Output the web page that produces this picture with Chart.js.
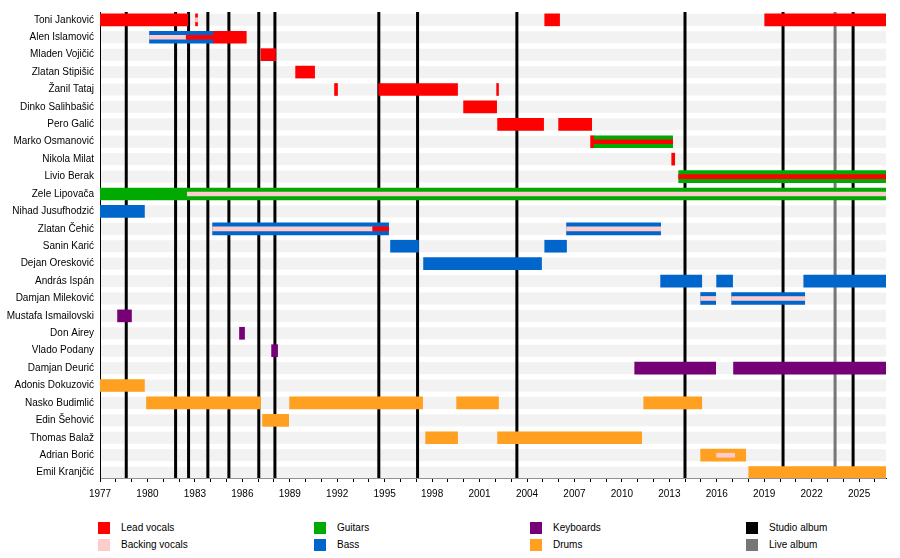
<!DOCTYPE html>
<html>
<head>
<meta charset="utf-8">
<script src="https://cdn.jsdelivr.net/npm/chart.js@4"></script>
<style>
  html, body { margin: 0; padding: 0; background: #fff; }
  body { width: 900px; height: 558px; position: relative; overflow: hidden; font-family: "Liberation Sans", Arial, sans-serif; }
  #wrap { position: absolute; left: 0; top: 0; width: 900px; height: 505px; }
  #legend {
    position: absolute; left: 98px; top: 519px;
    display: grid; grid-auto-flow: column;
    grid-template-rows: 17px 17px; grid-template-columns: repeat(4, 216px);
    font-size: 10px; color: #000;
  }
  .item { display: flex; align-items: center; }
  .box { width: 12px; height: 12px; margin-right: 11px; }
</style>
</head>
<body>
<div id="wrap"><canvas id="timeline"></canvas></div>
<div id="legend"></div>
<script>
// band members, top to bottom
const members = [
  'Toni Janković', 'Alen Islamović', 'Mladen Vojičić', 'Zlatan Stipišić', 'Žanil Tataj',
  'Dinko Salihbašić', 'Pero Galić', 'Marko Osmanović', 'Nikola Milat', 'Livio Berak',
  'Zele Lipovača', 'Nihad Jusufhodzić', 'Zlatan Čehić', 'Sanin Karić', 'Dejan Oresković',
  'András Ispán', 'Damjan Mileković', 'Mustafa Ismailovski', 'Don Airey', 'Vlado Podany',
  'Damjan Deurić', 'Adonis Dokuzović', 'Nasko Budimlić', 'Edin Šehović', 'Thomas Balaž',
  'Adrian Borić', 'Emil Kranjčić'
];

const startYear = 1977;
const endYear = 2026.7;

// [member, from, to]
const leadVocals = [
  ['Toni Janković', 1977, 1982.55], ['Toni Janković', 1983.04, 1983.17],
  ['Toni Janković', 2005.12, 2006.06], ['Toni Janković', 2019.03, 2026.7],
  ['Alen Islamović', 1984.18, 1986.25],
  ['Mladen Vojičić', 1987.17, 1988.1],
  ['Zlatan Stipišić', 1989.37, 1990.57],
  ['Žanil Tataj', 1991.83, 1992.02], ['Žanil Tataj', 1994.62, 1999.61], ['Žanil Tataj', 2002.08, 2002.2],
  ['Dinko Salihbašić', 1999.99, 2002.08],
  ['Pero Galić', 2002.14, 2005.05], ['Pero Galić', 2006.0, 2008.09],
  ['Marko Osmanović', 2008.02, 2008.21],
  ['Nikola Milat', 2013.15, 2013.34]
];
const guitars = [
  ['Marko Osmanović', 2008.21, 2013.21],
  ['Livio Berak', 2013.59, 2026.7],
  ['Zele Lipovača', 1977, 2026.7]
];
const bass = [
  ['Alen Islamović', 1980.13, 1984.18],
  ['Nihad Jusufhodzić', 1977, 1979.81],
  ['Zlatan Čehić', 1984.12, 1995.25], ['Zlatan Čehić', 2006.5, 2012.45],
  ['Sanin Karić', 1995.37, 1997.14], ['Sanin Karić', 2005.12, 2006.5],
  ['Dejan Oresković', 1997.46, 2004.92],
  ['András Ispán', 2012.45, 2015.05], ['András Ispán', 2015.99, 2017.0], ['András Ispán', 2021.5, 2026.7],
  ['Damjan Mileković', 2014.98, 2015.93], ['Damjan Mileković', 2016.94, 2021.56]
];
const keyboards = [
  ['Mustafa Ismailovski', 1978.11, 1978.99],
  ['Don Airey', 1985.82, 1986.14],
  ['Vlado Podany', 1987.85, 1988.23],
  ['Damjan Deurić', 2010.81, 2015.93], ['Damjan Deurić', 2017.06, 2026.7]
];
const drums = [
  ['Adonis Dokuzović', 1977, 1979.81],
  ['Nasko Budimlić', 1979.94, 1987.15], ['Nasko Budimlić', 1988.99, 1997.4],
  ['Nasko Budimlić', 1999.55, 2002.2], ['Nasko Budimlić', 2011.38, 2015.05],
  ['Edin Šehović', 1987.28, 1988.93],
  ['Thomas Balaž', 1997.59, 1999.61], ['Thomas Balaž', 2002.14, 2011.25],
  ['Adrian Borić', 2014.98, 2017.83],
  ['Emil Kranjčić', 2018.02, 2026.7]
];
// secondary roles, drawn as a thin strip inside the main bar
const leadVocalsInner = [
  ['Alen Islamović', 1982.45, 1984.18],
  ['Zlatan Čehić', 1994.24, 1995.25],
  ['Marko Osmanović', 2008.21, 2013.21],
  ['Livio Berak', 2013.59, 2026.7]
];
const backingVocalsInner = [
  ['Toni Janković', 1983.04, 1983.17],
  ['Alen Islamović', 1980.13, 1982.45],
  ['Zele Lipovača', 1982.52, 2026.7],
  ['Zlatan Čehić', 1984.12, 1994.24], ['Zlatan Čehić', 2006.5, 2012.45],
  ['Damjan Mileković', 2014.98, 2015.93], ['Damjan Mileković', 2016.94, 2021.56],
  ['Adrian Borić', 2015.99, 2017.13]
];

const studioAlbums = [1978.66, 1981.78, 1982.6, 1983.82, 1985.15, 1987.04, 1988.06,
  1994.63, 1997.08, 2003.36, 2013.99, 2020.19, 2024.62];
const liveAlbums = [2023.48];

const colors = {
  lead: '#ff0000', backing: '#ffcccc', guitars: '#00aa00', bass: '#0066cc',
  keys: '#760076', drums: '#ffa020', studio: '#000000', live: '#767676', row: '#f2f2f2'
};
const barSize = 12;
const innerSize = 4;

function toBars(list) {
  return list.map(r => ({ y: members.indexOf(r[0]), x: [r[1], r[2]] }));
}
function barSet(label, list, color, thick, order) {
  return {
    label: label, data: toBars(list), backgroundColor: color,
    barThickness: thick, grouped: false, borderWidth: 0, order: order
  };
}

// grey row bands and album lines go under the bars
const underlay = {
  id: 'underlay',
  beforeDatasetsDraw(chart) {
    const { ctx, chartArea, scales: { x, y } } = chart;
    ctx.save();
    ctx.fillStyle = colors.row;
    members.forEach((m, i) => {
      const py = y.getPixelForValue(i);
      ctx.fillRect(chartArea.left + 1, py - barSize / 2, chartArea.right - chartArea.left - 1, barSize);
    });
    ctx.lineWidth = 3;
    const drawLines = (years, c) => {
      ctx.strokeStyle = c;
      years.forEach(v => {
        const px = x.getPixelForValue(v);
        ctx.beginPath();
        ctx.moveTo(px, chartArea.top);
        ctx.lineTo(px, chartArea.bottom);
        ctx.stroke();
      });
    };
    drawLines(studioAlbums, colors.studio);
    drawLines(liveAlbums, colors.live);
    ctx.restore();
  }
};

Chart.defaults.font.family = '"Liberation Sans", Arial, sans-serif';
Chart.defaults.font.size = 10;
Chart.defaults.color = '#000';

new Chart(document.getElementById('timeline'), {
  type: 'bar',
  data: {
    datasets: [
      barSet('Lead vocals', leadVocals, colors.lead, barSize, 10),
      barSet('Guitars', guitars, colors.guitars, barSize, 10),
      barSet('Bass', bass, colors.bass, barSize, 10),
      barSet('Keyboards', keyboards, colors.keys, barSize, 10),
      barSet('Drums', drums, colors.drums, barSize, 10),
      barSet('Lead vocals (2nd)', leadVocalsInner, colors.lead, innerSize, 1),
      barSet('Backing vocals', backingVocalsInner, colors.backing, innerSize, 1)
    ]
  },
  options: {
    indexAxis: 'y',
    responsive: true,
    maintainAspectRatio: false,
    animation: false,
    layout: { padding: { left: 0, right: 14, top: 9, bottom: 0 } },
    scales: {
      x: {
        type: 'linear',
        min: startYear,
        max: endYear,
        afterBuildTicks: s => {
          const t = [];
          for (let v = startYear; v <= Math.floor(endYear); v++) t.push({ value: v });
          s.ticks = t;
        },
        afterFit: s => { s.height = 27; },
        ticks: {
          autoSkip: false,
          maxRotation: 0,
          padding: 6,
          callback: v => ((v - startYear) % 3 === 0 ? String(v) : '')
        },
        grid: { drawOnChartArea: false, tickLength: 4, color: '#000' },
        border: { color: '#000', width: 1 }
      },
      y: {
        type: 'linear',
        reverse: true,
        offset: false,
        min: -0.45,
        max: members.length - 0.69,
        afterBuildTicks: s => { s.ticks = members.map((m, i) => ({ value: i })); },
        afterFit: s => { s.width = 100; },
        ticks: { padding: 6, autoSkip: false, callback: v => members[v] },
        grid: { display: false, drawTicks: false, offset: false },
        border: { display: true, color: '#000', width: 1 }
      }
    },
    plugins: {
      legend: { display: false },
      tooltip: { enabled: false }
    }
  },
  plugins: [underlay]
});

// legend, two rows by four columns
const legendItems = [
  ['Lead vocals', colors.lead], ['Backing vocals', colors.backing],
  ['Guitars', colors.guitars], ['Bass', colors.bass],
  ['Keyboards', colors.keys], ['Drums', colors.drums],
  ['Studio album', colors.studio], ['Live album', colors.live]
];
const legend = document.getElementById('legend');
legendItems.forEach(it => {
  const d = document.createElement('div');
  d.className = 'item';
  d.innerHTML = '<span class="box" style="background:' + it[1] + '"></span><span>' + it[0] + '</span>';
  legend.appendChild(d);
});
</script>
</body>
</html>
